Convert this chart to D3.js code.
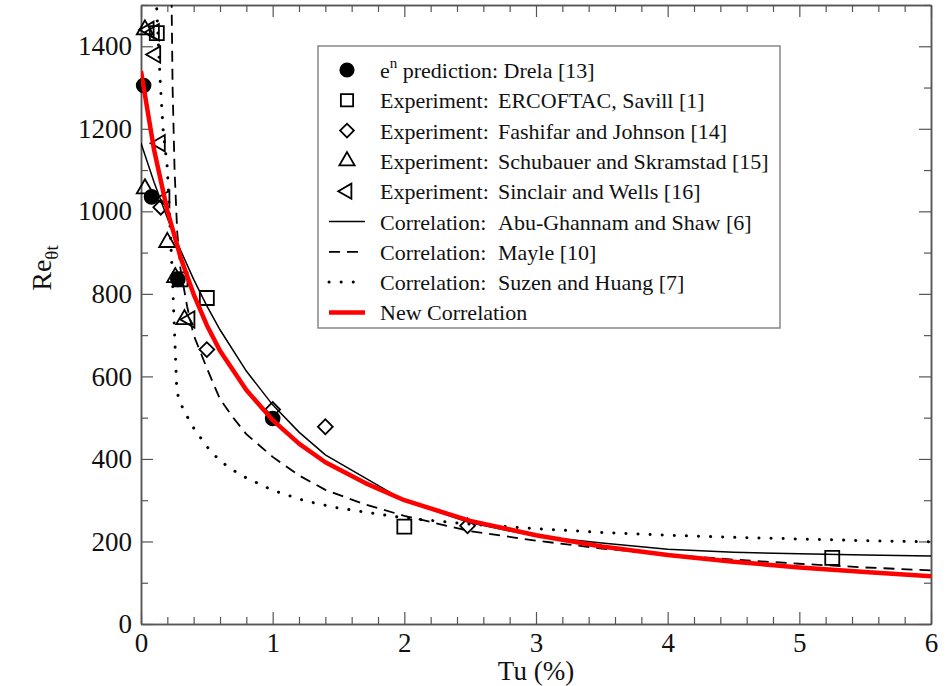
<!DOCTYPE html>
<html>
<head>
<meta charset="utf-8">
<script src="https://cdn.jsdelivr.net/npm/d3@7"></script>
<style>
  html, body { margin: 0; padding: 0; background: #fff; }
  svg { display: block; }
</style>
</head>
<body>
<svg id="chart" width="947" height="686"></svg>
<script>
// Axis ticks
const tuTicks = [0, 1, 2, 3, 4, 5, 6];
const tuMinor = [0.2, 0.4, 0.6, 0.8, 1.2, 1.4, 1.6, 1.8, 2.2, 2.4, 2.6, 2.8, 3.2, 3.4, 3.6, 3.8, 4.2, 4.4, 4.6, 4.8, 5.2, 5.4, 5.6, 5.8];
const reTicks = [0, 200, 400, 600, 800, 1000, 1200, 1400];
const reMinor = [100, 300, 500, 700, 900, 1100, 1300, 1500];

// Point data: [Tu (%), Re_theta_t]
const drela = [[0.02, 1305], [0.08, 1035], [0.28, 835], [1.0, 498]];
const ercoftac = [[0.12, 1432], [0.3, 835], [0.5, 790], [2.0, 236], [5.25, 160]];
const fashifar = [[0.15, 1010], [0.5, 665], [1.0, 520], [1.4, 478], [2.48, 238]];
const schubauer = [[0.03, 1440], [0.03, 1055], [0.2, 925], [0.26, 840], [0.33, 738]];
const sinclair = [[0.06, 1440], [0.1, 1434], [0.11, 1380], [0.145, 1165], [0.18, 1030], [0.37, 738]];

// Correlation curves: [Tu (%), Re_theta_t]
const abuGhannam = [[0, 1165], [0.1, 1070], [0.2, 984], [0.3, 906], [0.4, 835], [0.5, 771], [0.6, 713],
  [0.8, 613], [1.0, 531], [1.2, 465], [1.4, 410], [2.0, 299], [2.5, 245], [3.0, 213], [3.5, 196],
  [4.0, 181], [4.5, 174], [5.0, 170], [5.5, 167], [6.0, 165]];
const mayle = [[0.232, 1520], [0.24, 1300], [0.255, 1100], [0.275, 950], [0.3, 860], [0.35, 770],
  [0.4, 700], [0.5, 620], [0.6, 545], [0.7, 500], [0.8, 460], [1.0, 405], [1.2, 360], [1.4, 325],
  [1.7, 290], [2.0, 262], [2.5, 225], [3.0, 202], [3.5, 183], [4.0, 168], [4.5, 156], [5.0, 146],
  [5.5, 137], [6.0, 130]];
const suzenHuang = [[0.115, 1520], [0.13, 1420], [0.145, 1320], [0.167, 1200], [0.2, 1105],
  [0.235, 865], [0.245, 785], [0.26, 664], [0.27, 580], [0.28, 555], [0.32, 520], [0.4, 475],
  [0.5, 430], [0.6, 395], [0.75, 362], [1.0, 324], [1.25, 298], [1.5, 281], [2.0, 257], [2.5, 242],
  [3.0, 231], [3.5, 222], [4.0, 215], [4.5, 210], [5.0, 206], [5.5, 202], [6.0, 199]];
const newCorrelation = [[0.0, 1340], [0.1, 1148], [0.2, 1002], [0.3, 889], [0.4, 799], [0.5, 724],
  [0.6, 662], [0.8, 567], [1.0, 494], [1.2, 437], [1.4, 392], [1.7, 342], [2.0, 300], [2.5, 250],
  [3.0, 215], [3.5, 188], [4.0, 167], [4.5, 151], [5.0, 137], [5.5, 126], [6.0, 116]];

const svg = d3.select("#chart");
const plotLeft = 141, plotRight = 931, plotTop = 5, plotBottom = 624;
const x = d3.scaleLinear().domain([0, 6]).range([plotLeft, plotRight]);
const y = d3.scaleLinear().domain([0, 1500]).range([plotBottom, plotTop]);

const serif = "'Liberation Serif', 'Times New Roman', serif";
const frameColor = "#555";

// Clip for the curves
svg.append("defs").append("clipPath").attr("id", "plot")
  .append("rect").attr("x", plotLeft).attr("y", plotTop)
  .attr("width", plotRight - plotLeft).attr("height", plotBottom - plotTop);

// Axes with inward ticks on all four sides
function styleAxis(g) {
  g.selectAll("path.domain").attr("stroke", frameColor).attr("stroke-width", 1.5);
  g.selectAll(".tick line").attr("stroke", frameColor).attr("stroke-width", 1.2);
  g.selectAll(".tick text").attr("font-family", serif).attr("font-size", 27).attr("fill", "#111");
}
const axes = svg.append("g");
axes.append("g").attr("transform", `translate(0,${plotBottom})`)
  .call(d3.axisBottom(x).tickValues(tuTicks).tickSize(-12).tickSizeOuter(0).tickPadding(9).tickFormat(d3.format("d")))
  .call(styleAxis);
axes.append("g").attr("transform", `translate(0,${plotBottom})`)
  .call(d3.axisBottom(x).tickValues(tuMinor).tickSize(-7).tickSizeOuter(0).tickFormat(""))
  .call(styleAxis);
axes.append("g").attr("transform", `translate(0,${plotTop})`)
  .call(d3.axisTop(x).tickValues(tuTicks).tickSize(-12).tickSizeOuter(0).tickFormat(""))
  .call(styleAxis);
axes.append("g").attr("transform", `translate(0,${plotTop})`)
  .call(d3.axisTop(x).tickValues(tuMinor).tickSize(-7).tickSizeOuter(0).tickFormat(""))
  .call(styleAxis);
axes.append("g").attr("transform", `translate(${plotLeft},0)`)
  .call(d3.axisLeft(y).tickValues(reTicks).tickSize(-12).tickSizeOuter(0).tickPadding(9).tickFormat(d3.format("d")))
  .call(styleAxis);
axes.append("g").attr("transform", `translate(${plotLeft},0)`)
  .call(d3.axisLeft(y).tickValues(reMinor).tickSize(-7).tickSizeOuter(0).tickFormat(""))
  .call(styleAxis);
axes.append("g").attr("transform", `translate(${plotRight},0)`)
  .call(d3.axisRight(y).tickValues(reTicks).tickSize(-12).tickSizeOuter(0).tickFormat(""))
  .call(styleAxis);
axes.append("g").attr("transform", `translate(${plotRight},0)`)
  .call(d3.axisRight(y).tickValues(reMinor).tickSize(-7).tickSizeOuter(0).tickFormat(""))
  .call(styleAxis);

// Axis titles
svg.append("text")
  .attr("x", (plotLeft + plotRight) / 2).attr("y", 680)
  .attr("text-anchor", "middle")
  .attr("font-family", serif).attr("font-size", 27).attr("fill", "#111")
  .text("Tu (%)");
const yTitle = svg.append("text")
  .attr("transform", "translate(51,268) rotate(-90)")
  .attr("text-anchor", "middle")
  .attr("font-family", serif).attr("font-size", 28).attr("fill", "#111");
yTitle.append("tspan").text("Re");
yTitle.append("tspan").attr("font-size", 19).attr("dy", 7).text("θt");

// Curves
const line = d3.line().x(d => x(d[0])).y(d => y(d[1]));
const curves = svg.append("g").attr("clip-path", "url(#plot)");
curves.append("path").datum(abuGhannam).attr("d", line)
  .attr("fill", "none").attr("stroke", "#000").attr("stroke-width", 1.5);
curves.append("path").datum(mayle).attr("d", line)
  .attr("fill", "none").attr("stroke", "#000").attr("stroke-width", 1.8).attr("stroke-dasharray", "11,7");
curves.append("path").datum(suzenHuang).attr("d", line)
  .attr("fill", "none").attr("stroke", "#000").attr("stroke-width", 3)
  .attr("stroke-linecap", "round").attr("stroke-dasharray", "0.1,12");

// Marker shapes: [symbol type, rotation, filled]
const shapes = {
  circle: [d3.symbolCircle, 0, true],
  square: [d3.symbolSquare, 0, false],
  diamond: [d3.symbolSquare, 45, false],
  triangle: [d3.symbolTriangle, 0, false],
  ltriangle: [d3.symbolTriangle, -90, false]
};
const plotSizes = { circle: 150, square: 196, diamond: 110, triangle: 115, ltriangle: 115 };
const legendSizes = { circle: 140, square: 150, diamond: 95, triangle: 100, ltriangle: 100 };

function drawMarkers(data, kind) {
  const [type, rot, filled] = shapes[kind];
  svg.append("g").selectAll("path").data(data).join("path")
    .attr("d", d3.symbol().type(type).size(plotSizes[kind])())
    .attr("transform", d => `translate(${x(d[0])},${y(d[1])}) rotate(${rot})`)
    .attr("fill", filled ? "#000" : "none")
    .attr("stroke", "#000").attr("stroke-width", 1.8);
}
drawMarkers(drela, "circle");
drawMarkers(ercoftac, "square");
drawMarkers(fashifar, "diamond");
drawMarkers(schubauer, "triangle");
drawMarkers(sinclair, "ltriangle");

// New correlation drawn on top
svg.append("g").attr("clip-path", "url(#plot)")
  .append("path").datum(newCorrelation).attr("d", line)
  .attr("fill", "none").attr("stroke", "#ff0000").attr("stroke-width", 4.5)
  .attr("stroke-linejoin", "round");

// Legend
const legend = svg.append("g");
legend.append("rect").attr("x", 318).attr("y", 46).attr("width", 462).attr("height", 282)
  .attr("fill", "#fff").attr("stroke", "#888").attr("stroke-width", 1.5);

const legendRows = [
  { kind: "circle", a: null, b: null },
  { kind: "square", a: "Experiment:", b: "ERCOFTAC, Savill [1]" },
  { kind: "diamond", a: "Experiment:", b: "Fashifar and Johnson [14]" },
  { kind: "triangle", a: "Experiment:", b: "Schubauer and Skramstad [15]" },
  { kind: "ltriangle", a: "Experiment:", b: "Sinclair and Wells [16]" },
  { kind: "solid", a: "Correlation:", b: "Abu-Ghannam and Shaw [6]" },
  { kind: "dashed", a: "Correlation:", b: "Mayle [10]" },
  { kind: "dotted", a: "Correlation:", b: "Suzen and Huang [7]" },
  { kind: "red", a: "New Correlation", b: null }
];
const rowY = i => 70 + i * 30.3;
const symX = 347, textX = 380, colX = 498;

legendRows.forEach((r, i) => {
  const cy = rowY(i);
  const g = legend.append("g");
  if (shapes[r.kind]) {
    const [type, rot, filled] = shapes[r.kind];
    g.append("path")
      .attr("d", d3.symbol().type(type).size(legendSizes[r.kind])())
      .attr("transform", `translate(${symX},${cy}) rotate(${rot})`)
      .attr("fill", filled ? "#000" : "none").attr("stroke", "#000").attr("stroke-width", 1.8);
  } else {
    const styles = {
      solid: ["#000", 1.5, null, "butt"],
      dashed: ["#000", 1.8, "11,7", "butt"],
      dotted: ["#000", 3, "0.1,12", "round"],
      red: ["#ff0000", 4.5, null, "butt"]
    };
    const [stroke, w, dash, cap] = styles[r.kind];
    g.append("line")
      .attr("x1", 329).attr("x2", 365).attr("y1", cy).attr("y2", cy)
      .attr("stroke", stroke).attr("stroke-width", w)
      .attr("stroke-dasharray", dash).attr("stroke-linecap", cap);
  }

  const t = g.append("text").attr("y", cy + 8)
    .attr("font-family", serif).attr("font-size", 22).attr("fill", "#111");
  if (r.kind === "circle") {
    t.append("tspan").attr("x", textX).text("e");
    t.append("tspan").attr("font-size", 15).attr("dy", -10).text("n");
    t.append("tspan").attr("dy", 10).text(" prediction: Drela [13]");
  } else {
    t.append("tspan").attr("x", textX).text(r.a);
    if (r.b) t.append("tspan").attr("x", colX).text(r.b);
  }
});
</script>
</body>
</html>
